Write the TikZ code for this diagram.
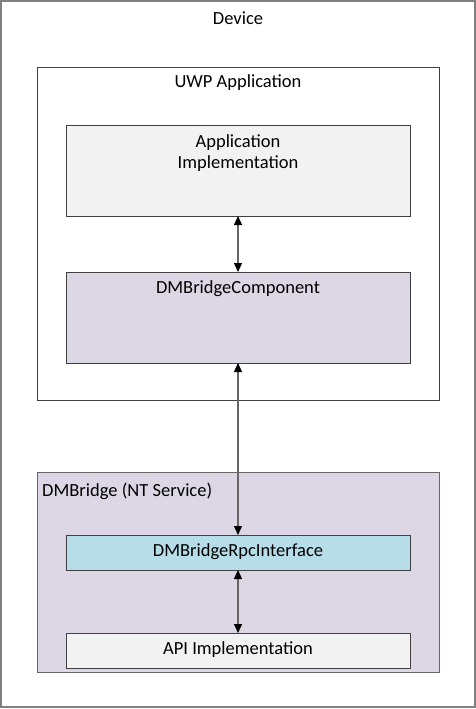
\documentclass[tikz,border=0pt]{standalone}
\usepackage{fontspec}
\setmainfont{Carlito}
\usetikzlibrary{arrows.meta}
\definecolor{lav}{HTML}{DDD6E5}
\definecolor{lgray}{HTML}{F2F2F2}
\definecolor{lblue}{HTML}{B7DDE8}
\definecolor{bord}{HTML}{404040}
\tikzset{
  box/.style={draw=bord, line width=1pt, inner sep=0pt},
  lbl/.style={font=\fontsize{18.5}{21}\selectfont, inner sep=0pt},
  link/.style={draw=gray!80!black, line width=1.3pt, {Triangle[length=9pt,width=8pt,color=black]}-{Triangle[length=9pt,width=8pt,color=black]}}
}
\begin{document}
\begin{tikzpicture}[x=1pt,y=-1pt]
\useasboundingbox (0,0) rectangle (476,709);
\fill[white] (0,0) rectangle (476,709);
% Device
\draw[draw=gray, line width=1.2pt] (1,1) rectangle (475,707);
\node[lbl] (devlbl) at (238,18) {Device};
% UWP
\draw[box] (37,68) rectangle (439,400);
\node[lbl] (uwplbl) at (238,83) {UWP Application};
% App impl
\draw[box, fill=lgray] (66,125) rectangle (410,216);
\coordinate (ai) at (238,216);
\node[lbl, align=center] (ailbl) at (238,153) {Application\\Implementation};
% DMBridgeComponent
\draw[box, fill=lav] (66,272) rectangle (410,363);
\coordinate (dct) at (238,272);
\coordinate (dcb) at (238,363);
\node[lbl] (dclbl) at (238,289) {DMBridgeComponent};
% DMBridge NT service
\draw[box, fill=lav, draw=gray!80!black] (37,472) rectangle (439,672);
\node[lbl, anchor=west] (ntlbl) at (42,491) {DMBridge (NT Service)};
% Rpc
\draw[box, fill=lblue] (66,535) rectangle (410,570);
\coordinate (rt) at (238,535);
\coordinate (rb) at (238,570);
\node[lbl] (rlbl) at (238,552) {DMBridgeRpcInterface};
% API
\draw[box, fill=lgray] (66,633) rectangle (410,668);
\coordinate (at) at (238,633);
\node[lbl] (alb) at (238,650) {API Implementation};
% arrows
\draw[link] (ai) -- (dct);
\draw[link] (dcb) -- (rt);
\draw[link] (rb) -- (at);
\end{tikzpicture}
\end{document}
